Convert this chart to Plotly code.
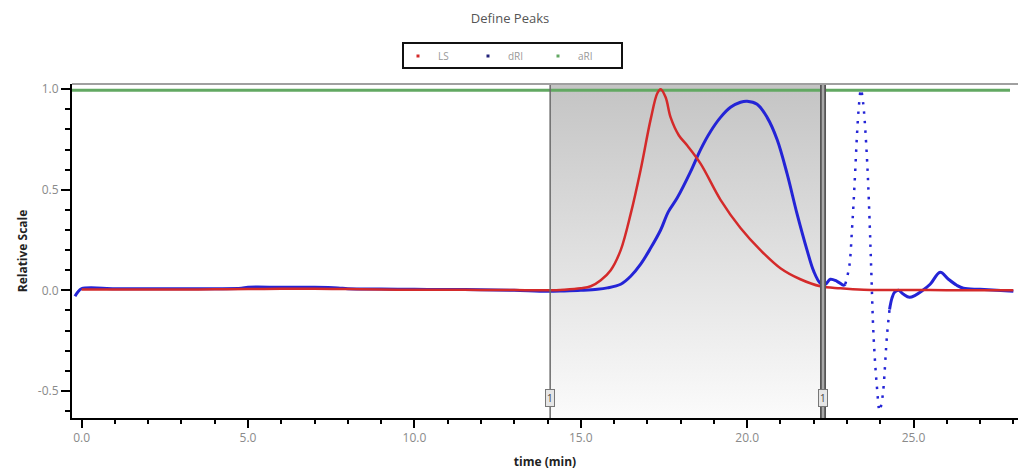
import plotly.graph_objects as go

# ---------------- data ----------------
t_ls = [0.0, 1.0, 2.0, 3.0, 4.0, 5.0, 6.0, 7.0, 8.0, 9.0, 10.0, 11.0, 12.0, 13.0, 14.0,
        14.5, 15.0, 15.3, 15.6, 15.9, 16.2, 16.5, 16.8, 17.1, 17.3, 17.4, 17.55, 17.7,
        17.95, 18.2, 18.6, 19.2, 19.8, 20.4, 21.0, 21.6, 22.2, 22.8, 23.5, 24.5, 25.5,
        26.5, 27.5, 28.0]
ls = [0.004, 0.004, 0.004, 0.004, 0.005, 0.006, 0.008, 0.008, 0.006, 0.004, 0.003, 0.003,
      0.002, 0.001, 0.0, 0.003, 0.01, 0.02, 0.05, 0.10, 0.20, 0.38, 0.60, 0.85, 0.98, 1.0,
      0.96, 0.86, 0.77, 0.72, 0.63, 0.45, 0.31, 0.20, 0.11, 0.055, 0.02, 0.01, 0.003, 0.002,
      0.001, 0.0, 0.0, 0.0]

t_dri = [-0.2, -0.12, 0.0, 1.0, 2.0, 3.0, 4.0, 4.8, 5.0, 6.0, 7.0, 7.7, 8.0, 9.0, 10.0,
         11.0, 12.0, 13.0, 14.0, 14.5, 15.0, 15.5, 15.8, 16.2, 16.5, 16.8, 17.1, 17.4,
         17.63, 17.9, 18.3, 18.6, 18.9, 19.2, 19.5, 19.8, 20.0, 20.3, 20.6, 20.9, 21.2,
         21.5, 21.8, 22.0, 22.2, 22.35, 22.5, 22.7, 22.9, 22.95]
dri = [-0.03, -0.01, 0.008, 0.008, 0.008, 0.008, 0.008, 0.01, 0.015, 0.015, 0.015, 0.012,
       0.008, 0.006, 0.005, 0.004, 0.003, 0.0, -0.005, -0.003, 0.0, 0.005, 0.012, 0.03,
       0.07, 0.13, 0.21, 0.30, 0.39, 0.46, 0.59, 0.70, 0.79, 0.86, 0.91, 0.935, 0.94,
       0.925, 0.86, 0.75, 0.58, 0.38, 0.20, 0.095, 0.035, 0.03, 0.055, 0.045, 0.025, 0.03]

t_spike = [22.95, 23.07, 23.15, 23.2, 23.25, 23.3, 23.36, 23.42, 23.48, 23.53, 23.6,
           23.64, 23.7, 23.73, 23.8, 23.9, 23.98, 24.05, 24.1, 24.2, 24.28]
spike = [0.03, 0.12, 0.30, 0.44, 0.60, 0.77, 0.92, 1.0, 0.94, 0.85, 0.66, 0.52, 0.25,
         0.10, -0.23, -0.48, -0.60, -0.55, -0.48, -0.23, -0.095]

t_tail = [24.28, 24.35, 24.43, 24.55, 24.7, 24.88, 25.05, 25.24, 25.5, 25.8, 26.05,
          26.3, 26.5, 27.0, 27.5, 28.0]
tail = [-0.095, -0.04, -0.01, 0.0, -0.02, -0.035, -0.025, -0.005, 0.03, 0.09, 0.055,
        0.025, 0.01, 0.005, 0.0, -0.005]

t_ari = [-0.29, 27.9]
ari = [0.995, 0.995]

peak_start = 14.08
peak_end = 22.28
peak_labels = ["1", "1"]

x_range = [-0.29, 28.14]
y_range = [-0.635, 1.026]
y_tickvals = [-0.5, 0.0, 0.5, 1.0]
y_ticktext = ["-0.5", "0.0", "0.5", "1.0"]
x_tickvals = [0, 5, 10, 15, 20, 25]
x_ticktext = ["0.0", "5.0", "10.0", "15.0", "20.0", "25.0"]

RED = "#d42a2a"
BLUE = "#2424d6"
GREEN = "#62a862"
FONT = "Open Sans"

W, H = 1020, 476
ML, MR, MT, MB = 72, 2, 84, 58
PW, PH = W - ML - MR, H - MT - MB


def px_x(p):
    return (p - ML) / PW


def px_y(p):
    return (H - MB - p) / PH


fig = go.Figure()

# shaded peak window with vertical gradient
fig.add_trace(go.Scatter(
    x=[peak_start, peak_end, peak_end, peak_start, peak_start],
    y=[y_range[0], y_range[0], y_range[1], y_range[1], y_range[0]],
    mode="lines", line=dict(width=0), fill="toself",
    fillgradient=dict(type="vertical", colorscale=[[0, "#fbfbfb"], [1, "#c4c4c4"]]),
    hoverinfo="skip", showlegend=False))

fig.add_trace(go.Scatter(x=t_ari, y=ari, mode="lines",
                         line=dict(color=GREEN, width=3), showlegend=False))
fig.add_trace(go.Scatter(x=t_dri, y=dri, mode="lines",
                         line=dict(color=BLUE, width=3, shape="spline"), showlegend=False))
fig.add_trace(go.Scatter(x=t_spike, y=spike, mode="lines",
                         line=dict(color=BLUE, width=2.5, dash="2.5px,7px", shape="spline"),
                         showlegend=False))
fig.add_trace(go.Scatter(x=t_tail, y=tail, mode="lines",
                         line=dict(color=BLUE, width=3, shape="spline"), showlegend=False))
fig.add_trace(go.Scatter(x=t_ls, y=ls, mode="lines",
                         line=dict(color=RED, width=2.5, shape="spline"), showlegend=False))

# legend entries
for name, col in [("LS", RED), ("dRI", "#22227a"), ("aRI", GREEN)]:
    fig.add_trace(go.Scatter(x=[None], y=[None], mode="markers", name=name,
                             marker=dict(color=col, size=3, symbol="square")))

# legend frame
fig.add_shape(type="rect", xref="paper", yref="paper",
              x0=px_x(403), x1=px_x(622), y0=px_y(68), y1=px_y(43),
              line=dict(color="#111", width=2), fillcolor="rgba(0,0,0,0)")

# peak boundary lines
fig.add_shape(type="line", xref="x", yref="y domain", x0=peak_start, x1=peak_start,
              y0=0, y1=1, line=dict(color="#6a6a6a", width=1.5), layer="above")
fig.add_shape(type="line", xref="x", yref="y domain", x0=peak_end, x1=peak_end,
              y0=0, y1=1, line=dict(color="#555555", width=6), layer="above")
fig.add_shape(type="line", xref="x", yref="y domain", x0=peak_end, x1=peak_end,
              y0=0, y1=1, line=dict(color="#a8a8a8", width=2.5), layer="above")
# top frame
fig.add_shape(type="line", xref="x domain", yref="y domain", x0=0, x1=1, y0=1, y1=1,
              line=dict(color="#a0a0a0", width=2), layer="above")

for xv, lab in zip([peak_start, peak_end], peak_labels):
    fig.add_annotation(x=xv, y=-0.535, xref="x", yref="y", text=lab, showarrow=False,
                       font=dict(family=FONT, size=10, color="#444"),
                       bgcolor="#e6e6e6", bordercolor="#777", borderwidth=1, borderpad=1)

fig.update_layout(
    width=W, height=H,
    margin=dict(l=ML, r=MR, t=MT, b=MB),
    paper_bgcolor="white", plot_bgcolor="white",
    font=dict(family=FONT, color="#808080", size=12),
    title=dict(text="Define Peaks", x=0.5, xref="container", xanchor="center",
               y=1 - 18 / H, yref="container", yanchor="middle",
               font=dict(family=FONT, size=13, color="#555")),
    legend=dict(orientation="h", xref="container", yref="container",
                x=503 / W, xanchor="center", y=1 - 56 / H, yanchor="middle",
                borderwidth=0, bgcolor="rgba(0,0,0,0)",
                font=dict(family=FONT, size=10, color="#999"),
                entrywidth=25, entrywidthmode="pixels", itemwidth=30,
                tracegroupgap=0),
    xaxis=dict(range=x_range, tickmode="array", tickvals=x_tickvals, ticktext=x_ticktext,
               showgrid=False, zeroline=False, showline=True, linecolor="black", linewidth=2,
               ticks="outside", ticklen=8, tickwidth=2, tickcolor="black",
               tickfont=dict(family=FONT, size=12, color="#8a8a8a"),
               minor=dict(dtick=1, tick0=0, ticks="outside", ticklen=4, tickwidth=2,
                          tickcolor="black", showgrid=False),
               title=dict(text="<b>time (min)</b>", standoff=12,
                          font=dict(family=FONT, size=12, color="#222"))),
    yaxis=dict(range=y_range, tickmode="array", tickvals=y_tickvals, ticktext=y_ticktext,
               showgrid=False, zeroline=False, showline=True, linecolor="black", linewidth=2,
               ticks="outside", ticklen=9, tickwidth=2, tickcolor="black",
               tickfont=dict(family=FONT, size=12, color="#8a8a8a"),
               minor=dict(dtick=0.1, tick0=0, ticks="outside", ticklen=5, tickwidth=2,
                          tickcolor="black", showgrid=False),
               title=dict(text="<b>Relative Scale</b>", standoff=8,
                          font=dict(family=FONT, size=12, color="#222"))),
)

fig.write_html("out.html")
